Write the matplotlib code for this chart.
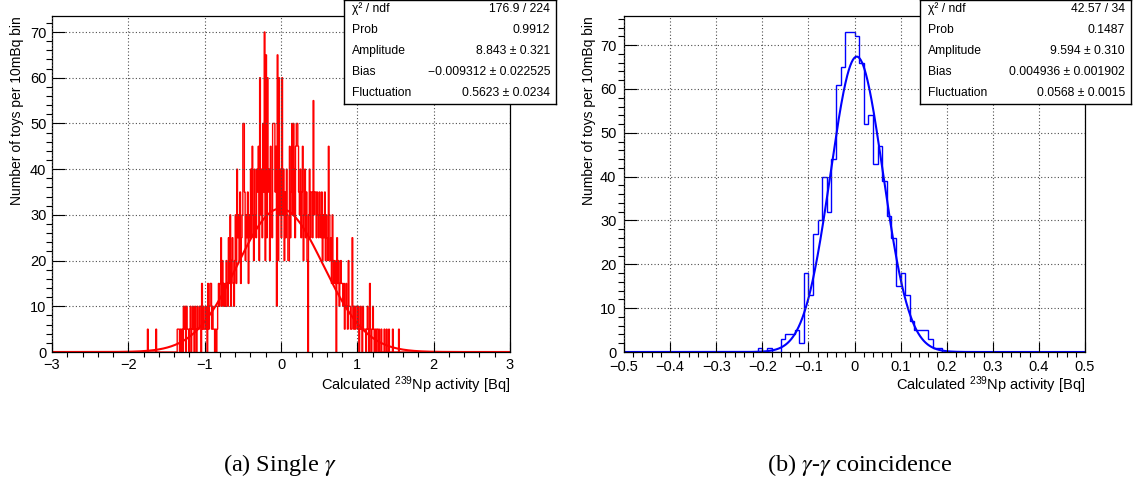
import numpy as np
import matplotlib.pyplot as plt
from matplotlib.ticker import MultipleLocator, FuncFormatter

plt.rcParams['font.family'] = ['Liberation Sans', 'DejaVu Sans']
plt.rcParams['mathtext.fontset'] = 'custom'
plt.rcParams['mathtext.rm'] = 'Liberation Sans'
plt.rcParams['mathtext.it'] = 'Liberation Sans:italic'

bin_width = 0.01  # 10 mBq

# (a) single gamma: bin contents from -1.80 Bq to 1.60 Bq, empty elsewhere in [-3, 3]
single_range = (-3.0, 3.0)
single_first = -1.80
single_counts = [
    0, 0, 0, 0, 0, 5, 0, 0, 0, 0,            # -1.8
    0, 0, 0, 0, 0, 0, 5, 0, 0, 0,            # -1.7
    0, 0, 0, 0, 0, 0, 0, 0, 0, 0,            # -1.6
    0, 0, 0, 0, 0, 0, 0, 0, 0, 0,            # -1.5
    0, 0, 0, 0, 5, 5, 5, 0, 5, 0,            # -1.4
    5, 0, 10, 5, 10, 0, 10, 5, 5, 0,         # -1.3
    5, 10, 0, 5, 10, 5, 0, 10, 5, 0,         # -1.2
    10, 5, 5, 10, 10, 0, 15, 5, 10, 5,       # -1.1
    5, 10, 5, 0, 15, 5, 10, 15, 15, 5,       # -1.0
    10, 5, 5, 0, 5, 0, 5, 10, 15, 10,        # -0.9
    15, 25, 10, 20, 15, 10, 15, 10, 20, 15,  # -0.8
    10, 25, 15, 30, 10, 20, 25, 15, 10, 20,  # -0.7
    30, 15, 40, 25, 30, 20, 35, 15, 25, 30,  # -0.6
    50, 50, 35, 20, 30, 25, 35, 15, 30, 25,  # -0.5
    40, 25, 45, 30, 20, 40, 30, 25, 40, 35,  # -0.4
    45, 20, 60, 30, 40, 25, 50, 35, 70, 20,  # -0.3
    65, 25, 60, 35, 40, 20, 45, 30, 25, 50,  # -0.2
    50, 50, 35, 45, 10, 65, 20, 60, 30, 40,  # -0.1
    25, 60, 30, 40, 20, 35, 25, 40, 30, 20,  # 0.0
    20, 45, 25, 35, 50, 30, 50, 40, 25, 45,  # 0.1
    50, 50, 45, 35, 30, 40, 25, 35, 45, 20,  # 0.2
    30, 40, 25, 35, 20, 0, 30, 40, 25, 35,   # 0.3
    35, 25, 55, 30, 35, 35, 25, 35, 30, 25,  # 0.4
    35, 30, 25, 35, 20, 30, 25, 35, 20, 30,  # 0.5
    25, 20, 45, 30, 20, 25, 15, 30, 20, 15,  # 0.6
    20, 15, 0, 25, 15, 20, 10, 15, 20, 15,   # 0.7
    15, 10, 15, 5, 10, 15, 10, 5, 20, 10,    # 0.8
    10, 5, 5, 25, 10, 5, 10, 5, 10, 10,      # 0.9
    5, 10, 0, 5, 10, 5, 0, 10, 5, 5,         # 1.0
    5, 0, 5, 10, 5, 0, 15, 5, 0, 5,          # 1.1
    10, 5, 0, 5, 0, 5, 5, 0, 5, 0,           # 1.2
    0, 5, 0, 0, 0, 5, 0, 0, 5, 0,            # 1.3
    0, 5, 0, 0, 0, 0, 5, 0, 0, 0,            # 1.4
    0, 0, 0, 0, 5, 0, 0, 0, 0, 0,            # 1.5
]
single_amp, single_bias, single_fluct = 8.843, -0.009312, 0.5623
single_scale = 5.0
single_stats = ['176.9 / 224', '0.9912', '8.843 \u00b1 0.321',
                '\u22120.009312 \u00b1 0.022525', '0.5623 \u00b1 0.0234']

# (b) gamma-gamma coincidence: bin contents from -0.21 Bq to 0.19 Bq
coinc_range = (-0.5, 0.5)
coinc_first = -0.21
coinc_counts = [
    1, 0, 1, 0, 0, 3, 4, 4, 5, 2,
    18, 13, 27, 30, 40, 32, 44, 61, 65, 73,
    73, 72, 66, 52, 54, 43, 47, 39, 31, 26,
    15, 18, 13, 7, 5, 5, 5, 3, 1, 1,
]
coinc_amp, coinc_bias, coinc_fluct = 9.594, 0.004936, 0.0568
coinc_scale = 1.0
coinc_stats = ['42.57 / 34', '0.1487', '9.594 \u00b1 0.310',
               '0.004936 \u00b1 0.001902', '0.0568 \u00b1 0.0015']

stat_names = ['\u03c7\u00b2 / ndf', 'Prob', 'Amplitude', 'Bias', 'Fluctuation']


def full_hist(lo, hi, first, counts):
    nbins = int(round((hi - lo) / bin_width))
    edges = lo + bin_width * np.arange(nbins + 1)
    vals = np.zeros(nbins)
    start = int(round((first - lo) / bin_width))
    vals[start:start + len(counts)] = counts
    return edges, vals


def root_fmt(v, pos):
    s = '%g' % round(v, 6)
    return s.replace('-', '\u2212')


W, H = 1133, 486
fig = plt.figure(figsize=(W / 100, H / 100), dpi=100)


def panel(x0, x1, rng, first, counts, amp, mu, sigma, scale, color,
          major, minor, stats, box_x0, box_x1, ylab_x, ypad, xpad):
    ax = fig.add_axes([x0 / W, (H - 352) / H, (x1 - x0) / W, (352 - 16) / H])
    edges, vals = full_hist(rng[0], rng[1], first, counts)
    ax.stairs(vals, edges, color=color, lw=1.0)

    xs = np.linspace(rng[0], rng[1], 2000)
    fit = scale * amp * np.exp(-0.5 * ((xs - mu) / sigma) ** 2) / (sigma * np.sqrt(2 * np.pi))
    ax.plot(xs, fit, color=color, lw=1.5)

    ax.set_xlim(*rng)
    ax.set_ylim(0, 1.05 * max(counts))
    ax.xaxis.set_major_locator(MultipleLocator(major))
    ax.xaxis.set_minor_locator(MultipleLocator(minor))
    ax.yaxis.set_major_locator(MultipleLocator(10))
    ax.yaxis.set_minor_locator(MultipleLocator(2))
    ax.xaxis.set_major_formatter(FuncFormatter(root_fmt))
    ax.tick_params(direction='in', labelsize=10.5, top=False, right=False)
    ax.tick_params(axis='y', which='major', length=9, width=0.8, pad=ypad)
    ax.tick_params(axis='y', which='minor', length=4.5, width=0.8)
    ax.tick_params(axis='x', which='major', length=7, width=0.8, pad=xpad)
    ax.tick_params(axis='x', which='minor', length=3.5, width=0.8)
    ax.grid(True, which='major', color='0.3', lw=0.8, ls=(0, (1, 2)))
    ax.set_axisbelow(False)
    for sp in ax.spines.values():
        sp.set_linewidth(0.9)

    fig.text(ylab_x / W, 1 - 16 / H, 'Number of toys per 10mBq bin',
             rotation=90, ha='center', va='top', fontsize=10)
    fig.text(x1 / W, 1 - 385 / H, 'Calculated $^{239}$Np activity [Bq]',
             ha='right', va='center', fontsize=10.5)

    # fit statistics box
    bx = fig.add_axes([box_x0 / W, (H - 104) / H, (box_x1 - box_x0) / W, 104 / H])
    bx.set_xticks([])
    bx.set_yticks([])
    for sp in bx.spines.values():
        sp.set_linewidth(1.0)
    rows_y = [9, 30, 51, 72, 93]
    for name, val, yy in zip(stat_names, stats, rows_y):
        bx.text(8 / (box_x1 - box_x0), 1 - yy / 104, name, ha='left', va='center',
                fontsize=8.7, transform=bx.transAxes)
        bx.text(1 - 6 / (box_x1 - box_x0), 1 - yy / 104, val, ha='right', va='center',
                fontsize=8.7, transform=bx.transAxes)
    return ax


panel(52, 510, single_range, single_first, single_counts, single_amp, single_bias,
      single_fluct, single_scale, 'red', 1.0, 0.2, single_stats, 344, 556, 17, 4, 4)
panel(624, 1085, coinc_range, coinc_first, coinc_counts, coinc_amp, coinc_bias,
      coinc_fluct, coinc_scale, 'blue', 0.1, 0.02, coinc_stats, 920, 1131, 589, 5.5, 5.5)

fig.text(280 / W, 1 - 465 / H, r'(a) Single $\gamma$', ha='center', va='center',
         fontsize=17.5, family='Liberation Serif', math_fontfamily='stix')
fig.text(860 / W, 1 - 465 / H, r'(b) $\gamma$-$\gamma$ coincidence', ha='center',
         va='center', fontsize=17.5, family='Liberation Serif', math_fontfamily='stix')

fig.savefig('out.png', dpi=100)
